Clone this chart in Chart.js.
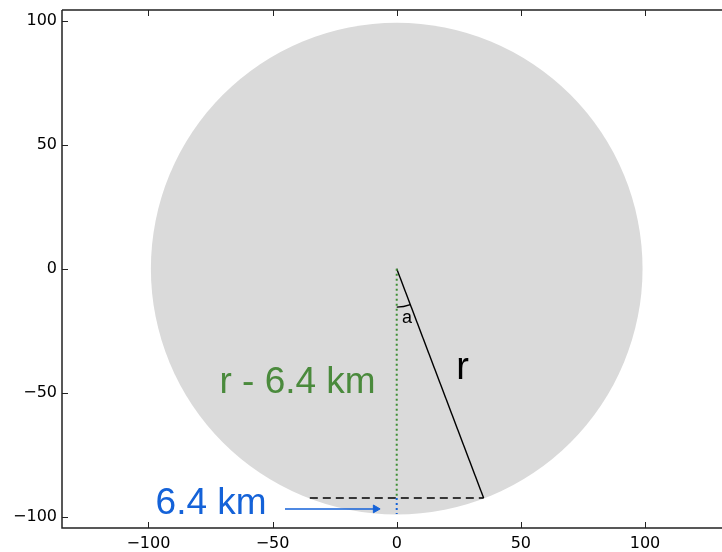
<!DOCTYPE html>
<html>
<head>
<meta charset="utf-8">
<script src="https://cdn.jsdelivr.net/npm/chart.js@4"></script>
<style>
  html, body { margin: 0; padding: 0; background: #fff; overflow: hidden; }
  #wrap { width: 722px; height: 552px; }
</style>
</head>
<body>
<div id="wrap"><canvas id="chart" width="722" height="552"></canvas></div>
<script>
// axis ranges and ticks
const xRange = [-134.8, 131];
const yRange = [-104.6, 104.3];
const xTicks = [-100, -50, 0, 50, 100];
const yTicks = [-100, -50, 0, 50, 100];

// geometry (km-ish)
const earthRadius = 99;
const chordY = -92.5;
const chordHalf = 35;
const arcRadius = 15.5;
const arrowY = -96.9;
const arrowX = [-45, -8.5];

// marks
const rLine = [{x: 0, y: 0}, {x: chordHalf, y: chordY}];
const chordLine = [{x: -chordHalf, y: chordY}, {x: chordHalf, y: chordY}];
const greenDrop = [{x: 0, y: 0}, {x: 0, y: chordY}];
const blueDrop = [{x: 0, y: chordY}, {x: 0, y: -earthRadius}];
const arrowLine = [{x: arrowX[0], y: arrowY}, {x: arrowX[1], y: arrowY}];

// labels: text, x, y, colour, size
const labels = [
  ['r - 6.4 km', -71.4, -50.2, '#4a8a3c', 37],
  ['6.4 km', -97.1, -98.9, '#1462d8', 37],
  ['r', 24.0, -44.5, '#000000', 38],
  ['a', 2.1, -22.0, '#000000', 18]
];

const BLUE = '#1462d8';
const GREEN = '#3f8f35';

function minus(v) {
  return String(v).replace('-', '\u2212');
}

// circle + angle arc, drawn through the scales
const shapes = {
  id: 'shapes',
  beforeDatasetsDraw(chart) {
    const {ctx, chartArea, scales: {x, y}} = chart;
    const cx = x.getPixelForValue(0), cy = y.getPixelForValue(0);
    const rad = x.getPixelForValue(earthRadius) - cx;
    ctx.save();
    ctx.beginPath();
    ctx.rect(chartArea.left, chartArea.top, chartArea.right - chartArea.left, chartArea.bottom - chartArea.top);
    ctx.clip();
    ctx.fillStyle = '#dadada';
    ctx.beginPath();
    ctx.arc(cx, cy, rad, 0, Math.PI * 2);
    ctx.fill();
    // angle arc between vertical and r
    const ar = x.getPixelForValue(arcRadius) - cx;
    const ex = x.getPixelForValue(chordHalf) - cx;
    const ey = y.getPixelForValue(chordY) - cy;
    ctx.strokeStyle = '#000';
    ctx.lineWidth = 1.2;
    ctx.beginPath();
    ctx.arc(cx, cy, ar, Math.atan2(ey, ex), Math.PI / 2, false);
    ctx.stroke();
    ctx.restore();
  },
  afterDatasetsDraw(chart) {
    const {ctx, scales: {x, y}} = chart;
    ctx.save();
    ctx.textBaseline = 'alphabetic';
    ctx.textAlign = 'left';
    labels.forEach(l => {
      ctx.font = l[4] + 'px "Liberation Sans", Arial, sans-serif';
      ctx.fillStyle = l[3];
      ctx.fillText(l[0], x.getPixelForValue(l[1]), y.getPixelForValue(l[2]));
    });
    ctx.restore();
  },
  afterDraw(chart) {
    // spines and inward ticks, matplotlib style
    const {ctx, chartArea: a, scales: {x, y}} = chart;
    ctx.save();
    ctx.strokeStyle = '#222';
    ctx.lineWidth = 1.5;
    ctx.beginPath();
    ctx.moveTo(a.left, a.top);
    ctx.lineTo(a.left, a.bottom);
    ctx.lineTo(a.right + 2, a.bottom);
    ctx.moveTo(a.left, a.top);
    ctx.lineTo(a.right + 2, a.top);
    ctx.stroke();
    ctx.lineWidth = 1;
    ctx.beginPath();
    xTicks.forEach(v => {
      const px = Math.round(x.getPixelForValue(v)) + 0.5;
      ctx.moveTo(px, a.bottom);
      ctx.lineTo(px, a.bottom - 6);
      ctx.moveTo(px, a.top);
      ctx.lineTo(px, a.top + 6);
    });
    yTicks.forEach(v => {
      const py = Math.round(y.getPixelForValue(v)) + 0.5;
      ctx.moveTo(a.left, py);
      ctx.lineTo(a.left + 6, py);
    });
    ctx.stroke();
    ctx.restore();
  }
};

const lineSet = (data, color, dash, width) => ({
  data: data,
  showLine: true,
  borderColor: color,
  borderWidth: width,
  borderDash: dash,
  pointRadius: 0,
  pointHoverRadius: 0,
  fill: false
});

const arrowSet = lineSet(arrowLine, BLUE, [], 1.5);
arrowSet.pointRadius = [0, 4.5];
arrowSet.pointStyle = 'triangle';
arrowSet.rotation = 90;
arrowSet.pointBackgroundColor = BLUE;
arrowSet.pointBorderColor = BLUE;
arrowSet.pointBorderWidth = 1;

new Chart(document.getElementById('chart').getContext('2d'), {
  type: 'scatter',
  data: {
    datasets: [
      lineSet(greenDrop, GREEN, [2, 3], 2),
      lineSet(blueDrop, BLUE, [2, 3], 2),
      lineSet(chordLine, '#000', [8, 5], 1.4),
      lineSet(rLine, '#000', [], 1.4),
      arrowSet
    ]
  },
  options: {
    responsive: false,
    animation: false,
    layout: {autoPadding: false, padding: {top: 10, right: 0, left: 0, bottom: 0}},
    plugins: {
      legend: {display: false},
      tooltip: {enabled: false}
    },
    scales: {
      x: {
        type: 'linear',
        min: xRange[0],
        max: xRange[1],
        afterBuildTicks: s => { s.ticks = xTicks.map(v => ({value: v})); },
        afterFit: s => { s.height = 24; s.paddingLeft = 0; s.paddingRight = 0; },
        grid: {display: false, drawTicks: false},
        border: {display: false},
        ticks: {
          padding: 6,
          color: '#000',
          font: {family: '"DejaVu Sans"', size: 16},
          callback: v => minus(v)
        }
      },
      y: {
        type: 'linear',
        min: yRange[0],
        max: yRange[1],
        afterBuildTicks: s => { s.ticks = yTicks.map(v => ({value: v})); },
        afterFit: s => { s.width = 62; s.paddingTop = 0; s.paddingBottom = 0; },
        grid: {display: false, drawTicks: false},
        border: {display: false},
        ticks: {
          padding: 5,
          color: '#000',
          font: {family: '"DejaVu Sans"', size: 16},
          callback: v => minus(v)
        }
      }
    }
  },
  plugins: [shapes]
});
</script>
</body>
</html>
